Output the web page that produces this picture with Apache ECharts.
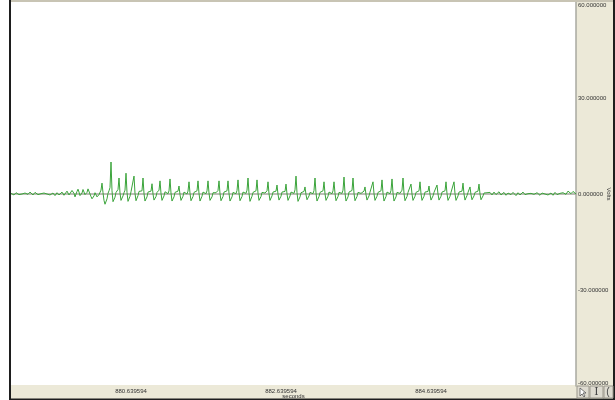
<!DOCTYPE html>
<html>
<head>
<meta charset="utf-8">
<script src="https://cdn.jsdelivr.net/npm/echarts@6/dist/echarts.min.js"></script>
<style>
  html, body { margin: 0; padding: 0; background: #fff; }
  #chart { width: 615px; height: 400px; }
</style>
</head>
<body>
<div id="chart"></div>
<script>
// recorded trace, one sample every 1/75 s, starting at tStart (seconds)
const tStart = 879.039594;
const sampleStep = 1 / 75;

// quiet stretch before the burst
const voltsBefore = [
  0.2, 0.5, 0.1, -0.3, 0.0, 0.4, 0.6, 0.2, -0.2, 0.1, 0.3, 0.0, -0.4, -0.1, 0.3, 0.5, 0.2, -0.1, 0.2, 0.6,
  0.4, 0.0, -0.3, 0.1, 0.5, 0.3, -0.1, -0.2, 0.2, 0.4, 0.1, -0.3, -0.1, 0.3, 0.2, -0.2, 0.0, 0.4, 0.1, -0.3,
  -0.4, 0.1, 0.3, -0.1, -0.5, 0.0, 0.4, 0.2, -0.3, -0.6, 0.1, 0.6, 0.3, -0.4, -0.7, 0.2, 0.9, 0.5, -0.3, -0.8,
  0.0, 1.1, 1.3, 0.2, -0.9, -0.4, 0.8, 1.5, 0.6, -0.5, -1.0, 0.3, 1.4, 1.0, -0.2, -0.6, 0.5, 1.6, 1.1, 0.0,
  -0.8, -1.5, -1.8, -0.6, 0.4, 0.2, -0.9, -1.4, -0.2
];

// the spike burst
const voltsBurst = [
  0.3, 1.2, 3.4, 0.4, -2.0, -3.2, -3.4, -1.5, 0.2, 1.0, 2.0, 10.0,
  1.0, -2.4, -2.9, -1.0, 0.5, 0.9, 1.4, 5.0, 0.3, -2.0, -2.5, -0.6, 0.4, 1.2, 6.5,
  0.5, -2.3, -2.7, -0.7, 0.7, 0.8, 1.1, 5.6, 0.2, -2.1, -2.5, -0.5, 0.8, 1.0, 0.4, 1.0, 5.0,
  0.1, -2.2, -2.6, -0.9, 0.6, 1.1, 0.5, 0.9, 3.2, 0.0, -1.9, -2.4, -0.8, 0.5, 1.0, 1.2, 4.1,
  0.2, -2.0, -2.5, -0.6, 0.7, 1.1, 0.5, 0.1, 1.0, 4.7, 0.3, -2.2, -2.7, -0.9, 0.5, 1.0, 0.4, 0.9, 2.5,
  -0.2, -2.0, -2.4, -0.7, 0.6, 1.2, 0.6, 0.0, 0.9, 3.8, 0.2, -2.1, -2.6, -0.8, 0.5, 1.1, 0.4, 1.0, 4.1,
  0.2, -2.2, -2.5, -0.7, 0.6, 1.0, 0.5, 0.1, 1.0, 4.1, 0.3, -2.0, -2.6, -0.9, 0.4, 0.9, 1.0, 0.4, 0.2, 1.1, 4.1,
  0.1, -2.1, -2.5, -0.8, 0.6, 1.1, 0.5, 1.0, 4.1, 0.2, -2.2, -2.7, -0.9, 0.5, 1.0, 0.4, 0.1, 1.1, 4.4,
  0.3, -2.1, -2.6, -0.8, 0.6, 1.2, 0.6, 0.2, 1.2, 5.0, 0.2, -2.3, -2.7, -0.7, 0.5, 1.0, 0.4, 1.0, 4.4,
  0.2, -2.0, -2.5, -0.8, 0.5, 1.1, 0.9, 0.3, 0.2, 1.0, 3.8, 0.1, -2.0, -2.4, -0.6, 0.6, 1.0, 0.4, 0.9, 2.8,
  -0.1, -1.9, -2.3, -0.7, 0.6, 1.0, 0.3, 0.8, 3.1, 0.0, -2.0, -2.4, -0.6, 0.6, 1.1, 0.5, 0.2, 1.3, 5.6,
  0.4, -2.3, -2.8, -0.9, 0.4, 0.9, 0.3, 0.8, 2.2, -0.2, -1.8, -2.2, -0.6, 0.5, 1.0, 0.6, 0.1, 1.1, 5.0,
  0.3, -2.2, -2.6, -0.8, 0.5, 1.0, 0.4, 1.0, 3.8, 0.1, -2.0, -2.5, -0.7, 0.6, 1.1, 0.5, 0.1, 1.0, 3.8,
  0.2, -2.1, -2.5, -0.8, 0.5, 1.0, 0.6, 0.2, 1.2, 5.3, 0.3, -2.2, -2.7, -0.9, 0.6, 1.1, 0.4, 1.1, 5.0,
  0.2, -2.1, -2.6, -0.8, 0.5, 1.0, 0.7, 0.2, 0.0, 0.4, 0.9, 2.2, -0.2, -1.9, -2.3, -0.6, 0.6, 0.4, 1.0, 3.8,
  0.1, -2.0, -2.5, -0.7, 0.5, 1.0, 0.4, 1.0, 4.4, 0.2, -2.2, -2.6, -0.8, 0.6, 1.1, 0.5, 0.1, 1.1, 4.7,
  0.3, -2.2, -2.7, -0.9, 0.5, 1.0, 0.6, 0.2, 0.1, 1.2, 5.0, 0.2, -2.1, -2.6, -0.8, 0.5, 0.4, 0.9, 3.1,
  0.0, -2.0, -2.4, -0.7, 0.5, 1.0, 0.4, 1.0, 3.8, 0.1, -2.0, -2.5, -0.7, 0.6, 1.0, 0.4, 0.8, 2.5,
  -0.1, -1.9, -2.3, -0.6, 0.5, 0.3, 0.9, 2.8, 0.0, -1.9, -2.4, -0.7, 0.6, 1.0, 0.4, 1.0, 3.8,
  0.1, -2.0, -2.5, -0.7, 0.5, 0.4, 1.0, 3.8, 0.1, -2.0, -2.4, -0.6, 0.6, 1.0, 0.4, 0.9, 3.4,
  0.0, -1.9, -2.3, -0.5, 0.5, 0.8, 2.2, -0.2, -1.8, -2.2, -0.6, 0.5, 0.9, 0.4, 0.9, 3.1,
  0.0, -1.8, -2.2, -0.6, 0.3
];

// quiet stretch after the burst
const voltsAfter = [
  0.6, 0.9, 0.4, 0.0, 0.3, 0.5, 0.1, -0.3, 0.2, 0.6, 0.3, -0.2, 0.0, 0.4, 0.7, 0.2, -0.3, -0.1, 0.3, 0.5,
  0.1, -0.4, -0.2, 0.3, 0.6, 0.2, -0.2, 0.1, 0.5, 0.4, -0.1, -0.5, 0.0, 0.4, 0.2, -0.3, -0.1, 0.3, 0.6, 0.2,
  -0.2, 0.0, 0.3, 0.1, -0.4, -0.2, 0.2, 0.5, 0.3, -0.1, -0.3, 0.1, 0.4, 0.2, -0.2, -0.4, 0.0, 0.3, 0.1, -0.2,
  0.0, 0.4, 0.2, -0.3, -0.1, 0.2, 0.3, -0.1, -0.4, 0.1, 0.5, 0.3, -0.2, 0.0, 0.3, 0.2, -0.3, -0.1, 0.4, 0.6,
  0.2, -0.1, 0.3, 0.9, 1.1, 0.5, 0.1, 0.4, 0.8, 0.6, 0.2, 0.0
];

const xTicks = [880.639594, 882.639594, 884.639594];
const yTicks = [-60, -30, 0, 30, 60];

const volts = voltsBefore.concat(voltsBurst, voltsAfter);
const trace = volts.map((v, i) => [tStart + i * sampleStep, v]);

const panel = '#ece9d8';
const labelFont = 'Arial, "Liberation Sans", sans-serif';

const chart = echarts.init(document.getElementById('chart'), null, { renderer: 'canvas' });

const option = {
  animation: false,
  backgroundColor: '#ffffff',
  grid: { left: 11, right: 39, top: 2, bottom: 14, containLabel: false, outerBoundsMode: 'none' },
  xAxis: {
    type: 'value',
    min: tStart,
    max: tStart + 565 * sampleStep,
    name: 'seconds',
    nameLocation: 'middle',
    nameGap: 7,
    nameMoveOverlap: false,
    nameTextStyle: { fontSize: 6, color: '#333', fontFamily: labelFont },
    axisLine: { show: true, lineStyle: { color: '#a8a8a0', width: 1.5 } },
    axisTick: { show: false },
    splitLine: { show: false },
    axisLabel: {
      customValues: xTicks,
      formatter: v => v.toFixed(6),
      fontSize: 6,
      margin: 2,
      color: '#333',
      fontFamily: labelFont
    }
  },
  yAxis: {
    type: 'value',
    position: 'right',
    min: -60,
    max: 60,
    interval: 30,
    name: 'Volts',
    nameLocation: 'middle',
    nameGap: 30,
    nameRotate: -90,
    nameMoveOverlap: false,
    nameTextStyle: { fontSize: 6, color: '#333', fontFamily: labelFont },
    axisLine: { show: true, lineStyle: { color: '#a8a8a0', width: 1.5 } },
    axisTick: { show: false },
    splitLine: { show: false },
    axisLabel: {
      customValues: yTicks,
      formatter: v => v.toFixed(6),
      fontSize: 6,
      margin: 2,
      color: '#333',
      fontFamily: labelFont,
      verticalAlignMaxLabel: 'top',
      verticalAlignMinLabel: 'bottom'
    }
  },
  graphic: [
    // side panels
    { type: 'rect', z: -10, silent: true, shape: { x: 576, y: 0, width: 39, height: 400 }, style: { fill: panel } },
    { type: 'rect', z: -10, silent: true, shape: { x: 11, y: 385, width: 566, height: 14 }, style: { fill: panel } },
    // frame
    { type: 'rect', z: 100, silent: true, shape: { x: 9, y: 0, width: 2, height: 400 }, style: { fill: '#1e1e1e' } },
    { type: 'rect', z: 100, silent: true, shape: { x: 9, y: 398.5, width: 606, height: 1.5 }, style: { fill: '#1e1e1e' } },
    { type: 'rect', z: 100, silent: true, shape: { x: 11, y: 0, width: 604, height: 2 }, style: { fill: '#c8c4b4' } },
    { type: 'rect', z: 100, silent: true, shape: { x: 613, y: 0, width: 2, height: 400 }, style: { fill: '#1e1e1e' } },
    // tool buttons
    { type: 'rect', z: 100, silent: true, shape: { x: 577, y: 386, width: 12, height: 12 }, style: { fill: '#dedbd0', stroke: '#9a978c', lineWidth: 1 } },
    { type: 'polygon', z: 101, silent: true, shape: { points: [[580, 388], [580, 396], [582, 394], [584, 397], [585, 396], [583, 393], [586, 393]] }, style: { fill: '#fff', stroke: '#555', lineWidth: 0.8 } },
    { type: 'rect', z: 100, silent: true, shape: { x: 590, y: 386, width: 13, height: 12 }, style: { fill: '#dedbd0', stroke: '#9a978c', lineWidth: 1 } },
    { type: 'text', z: 101, silent: true, style: { x: 596.5, y: 392, text: 'I', fontSize: 11, fontFamily: '"DejaVu Serif", serif', fill: '#444', align: 'center', verticalAlign: 'middle' } },
    { type: 'rect', z: 100, silent: true, shape: { x: 604, y: 386, width: 9, height: 12 }, style: { fill: '#dedbd0', stroke: '#9a978c', lineWidth: 1 } },
    { type: 'text', z: 101, silent: true, style: { x: 608, y: 392, text: '(', fontSize: 10, fill: '#444', align: 'center', verticalAlign: 'middle' } }
  ],
  series: [{
    type: 'line',
    data: trace,
    showSymbol: false,
    symbol: 'none',
    sampling: null,
    lineStyle: { color: '#3aa43a', width: 1 },
    clip: true
  }]
};

chart.setOption(option);
</script>
</body>
</html>
